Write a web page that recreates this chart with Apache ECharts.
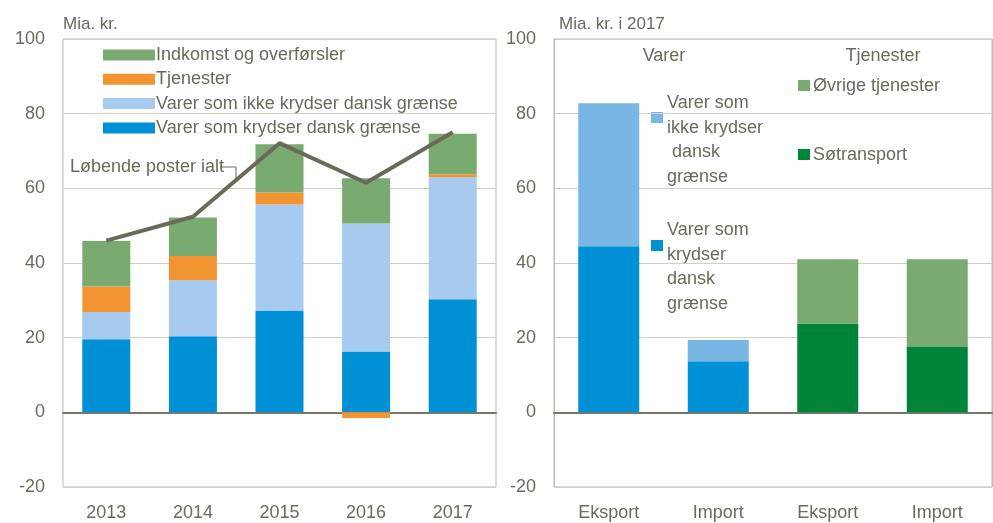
<!DOCTYPE html>
<html>
<head>
<meta charset="utf-8">
<script src="https://cdn.jsdelivr.net/npm/echarts@6/dist/echarts.min.js"></script>
<style>
  html,body{margin:0;padding:0;background:#fff;}
  #chart{width:993px;height:523px;}
</style>
</head>
<body>
<div id="chart"></div>
<script>
/* data */
const years = ["2013","2014","2015","2016","2017"];
const krydser = [19.6, 20.4, 27.3, 16.3, 30.3];
const ikkeKrydser = [7.3, 15.0, 28.4, 34.3, 32.7];
const tjenester = [6.8, 6.5, 3.2, -1.5, 0.8];
const indkomst = [12.2, 10.3, 12.9, 12.1, 10.8];
const loebende = [46.0, 52.4, 72.1, 61.5, 75.0];

const flows = ["Eksport","Import","Eksport","Import"];
const vKrydser = [44.5, 13.7, "-", "-"];
const vIkke = [38.3, 5.7, "-", "-"];
const soetransport = ["-", "-", 23.7, 17.5];
const oevrige = ["-", "-", 17.3, 23.5];

const yTicks = {min:-20, max:100, interval:20};

/* styles */
const txt = "#6b6a5c";
const font = "'Liberation Sans Narrow','Arial Narrow','Liberation Sans',sans-serif";
const C = {
	blue:"#0090d5", light:"#a7cbee", orange:"#f39433", green:"#79aa70",
	light2:"#7ab6e3", dark:"#00843a", line:"#6b6a5a"
};

const chart = echarts.init(document.getElementById("chart"));

const yAxisBase = (gi)=>({
	type:"value", gridIndex:gi, min:yTicks.min, max:yTicks.max, interval:yTicks.interval,
	axisLine:{show:false}, axisTick:{show:false},
	axisLabel:{color:txt, fontSize:18, fontFamily:font, margin:18},
	splitLine:{lineStyle:{color:"#cfcfc5", width:1}}
});

const xAxisBase = (gi,data)=>({
	type:"category", gridIndex:gi, data,
	axisTick:{show:false},
	axisLine:{onZero:true, lineStyle:{color:"#77766a", width:2}},
	axisLabel:{color:txt, fontSize:18, fontFamily:font, margin:17}
});

const right2 = xAxisBase(1,flows);
right2.splitLine = {show:true, interval:(i)=>i===2, lineStyle:{color:"#bcbcb0", width:1}};

const bar = (name,data,color,x,w)=>({
	name, type:"bar", stack:"s"+x, xAxisIndex:x, yAxisIndex:x, barWidth:w,
	data, itemStyle:{color}, emphasis:{disabled:true}
});

const gText = (text,x,y,align,size)=>({
	type:"text", x, y,
	style:{text, fill:txt, font:(size||17)+"px "+font, lineHeight:24.5,
		textAlign:align||"left", textVerticalAlign:"middle"}
});
const swatch = (x,y,color)=>({type:"rect", shape:{x, y, width:12, height:11}, style:{fill:color}});

const option = {
	animation:false,
	textStyle:{fontFamily:font},
	grid:[
		{left:63, top:39, width:433, height:448, show:true, borderColor:"#bcbcb0", borderWidth:1},
		{left:554, top:39, width:438, height:448, show:true, borderColor:"#bcbcb0", borderWidth:1}
	],
	xAxis:[xAxisBase(0,years), right2],
	yAxis:[yAxisBase(0), yAxisBase(1)],
	legend:{
		orient:"vertical", left:98, top:40, itemWidth:52, itemHeight:11, itemGap:4.3,
		icon:"rect", selectedMode:false,
		textStyle:{color:txt, fontSize:18, fontFamily:font, lineHeight:20, padding:[0,0,0,-4]},
		data:["Indkomst og overførsler","Tjenester","Varer som ikke krydser dansk grænse","Varer som krydser dansk grænse"]
	},
	series:[
		bar("Varer som krydser dansk grænse", krydser, C.blue, 0, 48),
		bar("Varer som ikke krydser dansk grænse", ikkeKrydser, C.light, 0, 48),
		bar("Tjenester", tjenester, C.orange, 0, 48),
		bar("Indkomst og overførsler", indkomst, C.green, 0, 48),
		{
			name:"Løbende poster ialt", type:"line", xAxisIndex:0, yAxisIndex:0,
			data:loebende, showSymbol:false, lineStyle:{color:C.line, width:4}, itemStyle:{color:C.line}
		},
		bar("Varer som krydser (2017)", vKrydser, C.blue, 1, 61),
		bar("Varer som ikke krydser (2017)", vIkke, C.light2, 1, 61),
		bar("Søtransport", soetransport, C.dark, 1, 61),
		bar("Øvrige tjenester", oevrige, C.green, 1, 61)
	],
	graphic:[
		gText("Mia. kr.", 63, 24, "left", 17),
		gText("Mia. kr. i 2017", 559, 24, "left", 17),
		gText("Løbende poster ialt", 70, 167, "left", 18),
		{type:"polyline", shape:{points:[[220,167],[236,167],[236,181]]}, style:{stroke:txt, lineWidth:1, fill:null}},
		gText("Varer", 664, 56, "center", 18),
		gText("Tjenester", 883, 56, "center", 18),
		swatch(651,112,C.light2),
		gText("Varer som\nikke krydser\n dansk\ngrænse", 667, 140, "left", 18),
		swatch(651,240,C.blue),
		gText("Varer som\nkrydser\ndansk\ngrænse", 667, 267, "left", 18),
		swatch(798,80,C.green),
		gText("Øvrige tjenester", 813, 86, "left", 18),
		swatch(798,149,C.dark),
		gText("Søtransport", 813, 155, "left", 18)
	]
};

chart.setOption(option);
</script>
</body>
</html>
